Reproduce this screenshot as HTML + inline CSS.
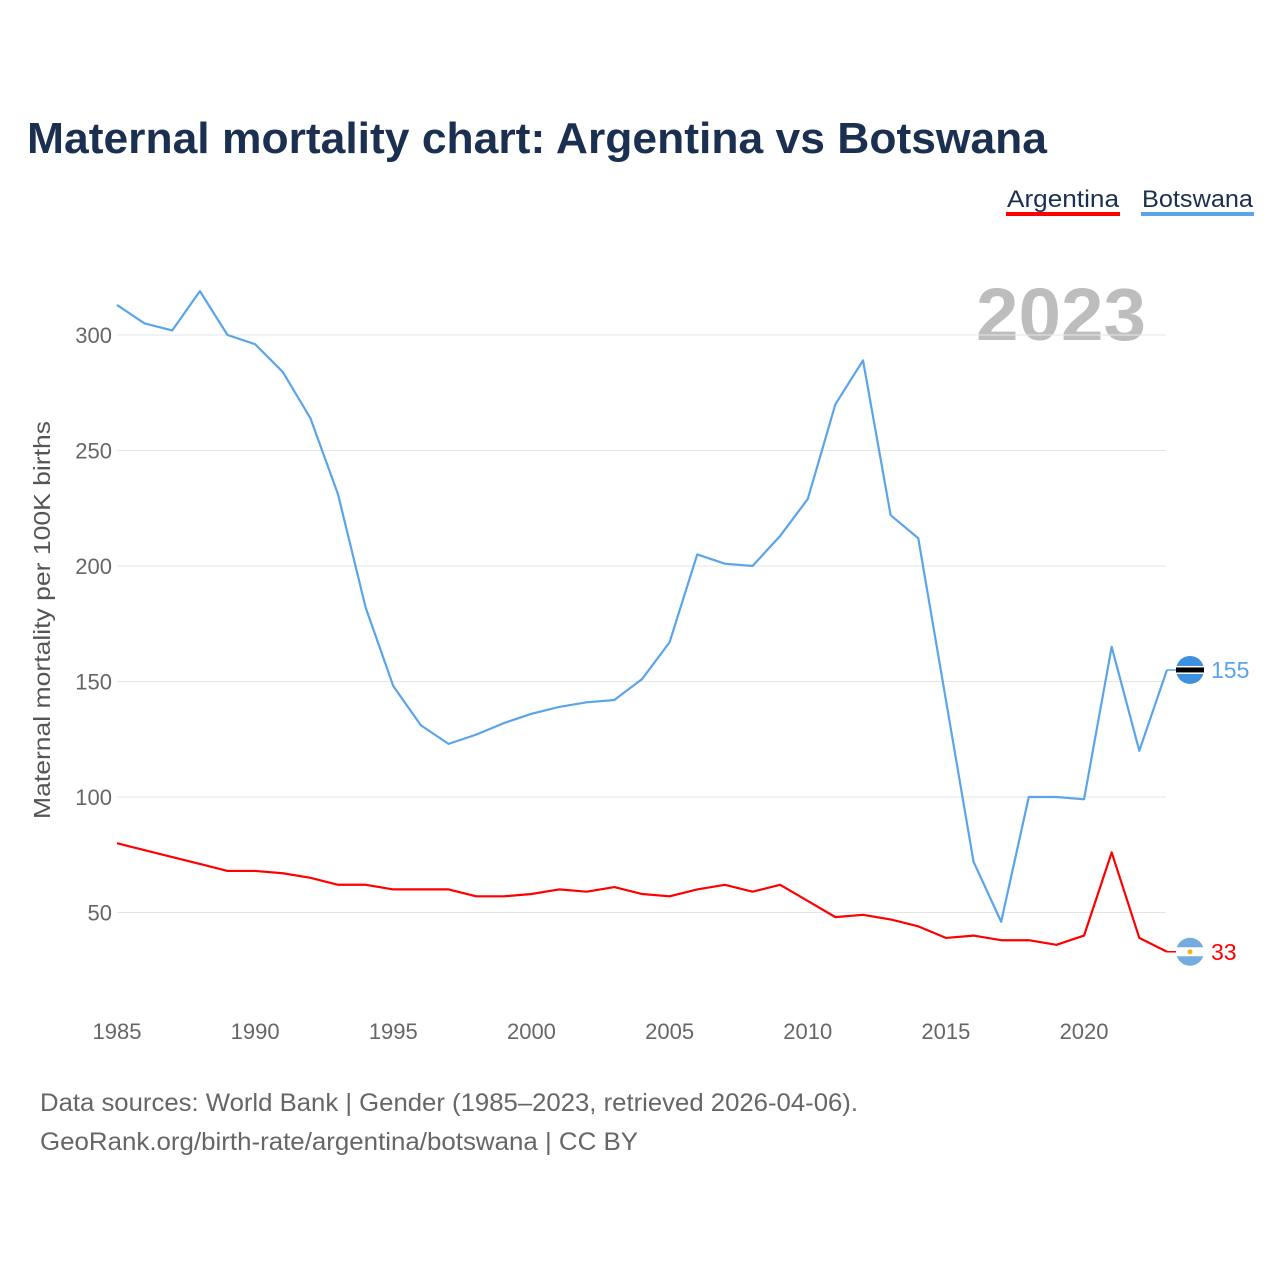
<!DOCTYPE html>
<html><head><meta charset="utf-8">
<style>
body{margin:0;background:#fff;font-family:"Liberation Sans",sans-serif;}
svg text{font-family:"Liberation Sans",sans-serif;}
</style></head>
<body>
<svg id="chart" width="1280" height="1280" viewBox="0 0 1280 1280">
<text x="27" y="153" font-size="44" font-weight="bold" fill="#1b3050" textLength="1020" lengthAdjust="spacingAndGlyphs">Maternal mortality chart: Argentina vs Botswana</text>
<g>
<g><text x="1007" y="207" font-size="24" fill="#1b3050" textLength="112" lengthAdjust="spacingAndGlyphs">Argentina</text><rect x="1006" y="212" width="114" height="4" fill="#f00"/></g>
<g><text x="1142" y="207" font-size="24" fill="#1b3050" textLength="111" lengthAdjust="spacingAndGlyphs">Botswana</text><rect x="1141" y="212" width="113" height="4" fill="#5aa4ea"/></g>
</g>
<text x="1146" y="340" font-size="74" font-weight="bold" fill="#bdbdbd" text-anchor="end" textLength="170" lengthAdjust="spacingAndGlyphs">2023</text>
<g id="grid"></g>
<g id="yticks"></g>
<g id="xticks"></g>
<text transform="translate(50,620) rotate(-90)" font-size="23" fill="#555" text-anchor="middle" textLength="398" lengthAdjust="spacingAndGlyphs">Maternal mortality per 100K births</text>
<g id="series"></g>
<text x="40" y="1111" font-size="25" fill="#666" textLength="818" lengthAdjust="spacingAndGlyphs">Data sources: World Bank | Gender (1985–2023, retrieved 2026-04-06).</text>
<text x="40" y="1150" font-size="25" fill="#666" textLength="598" lengthAdjust="spacingAndGlyphs">GeoRank.org/birth-rate/argentina/botswana | CC BY</text>
</svg>
<script>
const years=[1985,1986,1987,1988,1989,1990,1991,1992,1993,1994,1995,1996,1997,1998,1999,2000,2001,2002,2003,2004,2005,2006,2007,2008,2009,2010,2011,2012,2013,2014,2015,2016,2017,2018,2019,2020,2021,2022,2023];
const botswana=[313,305,302,319,300,296,284,264,231,182,148,131,123,127,132,136,139,141,142,151,167,205,201,200,213,229,270,289,222,212,142,72,46,100,100,99,165,120,155];
const argentina=[80,77,74,71,68,68,67,65,62,62,60,60,60,57,57,58,60,59,61,58,57,60,62,59,62,55,48,49,47,44,39,40,38,38,36,40,76,39,33];
const yTicks=[50,100,150,200,250,300];
const xTicks=[1985,1990,1995,2000,2005,2010,2015,2020];
const NS="http://www.w3.org/2000/svg";
const X=y=>117+(y-1985)*27.63;
const Y=v=>335+(300-v)*2.31;
function mk(t,a,p){const e=document.createElementNS(NS,t);for(const k in a)e.setAttribute(k,a[k]);p.appendChild(e);return e;}
const grid=document.getElementById('grid'),yt=document.getElementById('yticks'),xt=document.getElementById('xticks'),se=document.getElementById('series');
yTicks.forEach(v=>{
 const l=mk('line',{x1:117,x2:1166,y1:Y(v),y2:Y(v),stroke:'#e6e6e6','stroke-width':1},grid);
 
 
 const t=mk('text',{x:112,y:Y(v)+8,'font-size':22,fill:'#666','text-anchor':'end'},yt);t.textContent=v;
 
 
});
xTicks.forEach(v=>{
 const t=mk('text',{x:X(v),y:1039,'font-size':22,fill:'#666','text-anchor':'middle'},xt);t.textContent=v;
 
 
});
function line(vals,color,name,flag){
 const pts=vals.map((v,i)=>X(years[i])+','+Y(v)).join(' ');
 const p=mk('polyline',{points:pts,fill:'none',stroke:color,'stroke-width':2.2,'stroke-linejoin':'round'},se);
 
 
 const lv=vals[vals.length-1],lx=X(years[years.length-1]),ly=Y(lv);
 const h=mk('line',{x1:lx,x2:1190,y1:ly,y2:ly,stroke:color,'stroke-width':1.5},se);
 
 
 const g=mk('g',{},se);
 
 
 if(flag==='bw'){
  mk('circle',{cx:1190,cy:ly,r:14,fill:'#3d8fe0'},g);
  mk('rect',{x:1176,y:ly-4,width:28,height:8,fill:'#fff'},g);
  mk('rect',{x:1176,y:ly-2.5,width:28,height:5,fill:'#000'},g);
 }else{
  mk('circle',{cx:1190,cy:ly,r:14,fill:'#74acdf'},g);
  mk('rect',{x:1176,y:ly-4.5,width:28,height:9,fill:'#fff'},g);
  mk('circle',{cx:1190,cy:ly,r:2.5,fill:'#f6b40e'},g);
 }
 const t=mk('text',{x:1211,y:ly+8,'font-size':23,fill:color},se);t.textContent=lv;
 
 
}
line(botswana,'#5aa4ea','botswana','bw');
line(argentina,'#f00','argentina','ar');
</script>
</body></html>
